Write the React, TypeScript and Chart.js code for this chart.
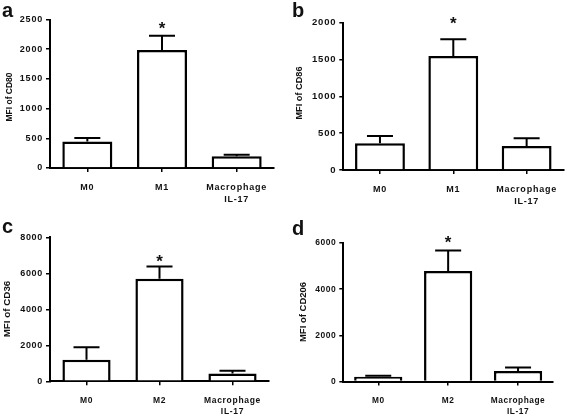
import React, { useEffect, useRef } from 'react';
import { Chart, registerables } from 'chart.js';

Chart.register(...registerables);

// ---- data ----
const catsM1: (string | string[])[] = ['M0', 'M1', ['Macrophage', 'IL-17']];
const catsM2: (string | string[])[] = ['M0', 'M2', ['Macrophage', 'IL-17']];

const cd80Mean = [445, 1985, 198];
const cd80Err = [62, 240, 26];
const cd80Ticks = [0, 500, 1000, 1500, 2000, 2500];

const cd86Mean = [362, 1548, 326];
const cd86Err = [100, 226, 104];
const cd86Ticks = [0, 500, 1000, 1500, 2000];

const cd36Mean = [1200, 5700, 440];
const cd36Err = [690, 680, 150];
const cd36Ticks = [0, 2000, 4000, 6000, 8000];

const cd206Mean = [210, 4790, 460];
const cd206Err = [40, 890, 150];
const cd206Ticks = [0, 2000, 4000, 6000];

const FONT = '"Liberation Sans", Arial, Helvetica, sans-serif';

interface PanelCfg {
  letter: string;
  title: string;
  labels: (string | string[])[];
  mean: number[];
  err: number[];
  ticks: number[];
  star: number;
  x: number; y: number; w: number; h: number;
  left: number; right: number; top: number; bottom: number;
  yTick: number; xTick: number; spacing: number;
  titleSize: number; titleX: number; titleY: number;
  letterX: number; letterY: number;
  starGap: number;
  barPct: number;
}

const panels: PanelCfg[] = [
  {
    letter: 'a', title: 'MFI of CD80', labels: catsM1, mean: cd80Mean, err: cd80Err, ticks: cd80Ticks, star: 1,
    x: 0, y: 0, w: 284, h: 208, left: 50, right: 274, top: 19.5, bottom: 168,
    yTick: 9, xTick: 9, spacing: 0.8, titleSize: 8.5, titleX: 10, titleY: 97,
    letterX: 2, letterY: 17, starGap: 11, barPct: 0.67,
  },
  {
    letter: 'b', title: 'MFI of CD86', labels: catsM1, mean: cd86Mean, err: cd86Err, ticks: cd86Ticks, star: 1,
    x: 284, y: 0, w: 283, h: 208, left: 59.3, right: 279.3, top: 22.7, bottom: 170,
    yTick: 9.5, xTick: 9, spacing: 0.8, titleSize: 9.2, titleX: 15, titleY: 93,
    letterX: 8, letterY: 17, starGap: 20, barPct: 0.68,
  },
  {
    letter: 'c', title: 'MFI of CD36', labels: catsM2, mean: cd36Mean, err: cd36Err, ticks: cd36Ticks, star: 1,
    x: 0, y: 208, w: 284, h: 208, left: 50, right: 269, top: 29.3, bottom: 173.3,
    yTick: 9, xTick: 8.5, spacing: 0.7, titleSize: 9.8, titleX: 7, titleY: 101,
    letterX: 2, letterY: 25, starGap: 9, barPct: 0.66,
  },
  {
    letter: 'd', title: 'MFI of CD206', labels: catsM2, mean: cd206Mean, err: cd206Err, ticks: cd206Ticks, star: 1,
    x: 284, y: 208, w: 283, h: 208, left: 59.3, right: 269, top: 35, bottom: 173.5,
    yTick: 8.5, xTick: 8.3, spacing: 0.55, titleSize: 9.5, titleX: 19, titleY: 104,
    letterX: 8, letterY: 27, starGap: 12, barPct: 0.69,
  },
];

function Panel({ cfg }: { cfg: PanelCfg }) {
  const ref = useRef<HTMLCanvasElement | null>(null);

  useEffect(() => {
    if (!ref.current) return;
    const decor = {
      id: 'decor',
      beforeDraw(chart: any) {
        chart.ctx.letterSpacing = cfg.spacing + 'px';
      },
      afterDatasetsDraw(chart: any) {
        const ctx = chart.ctx;
        const xs = chart.scales.x;
        const ys = chart.scales.y;
        ctx.save();
        ctx.strokeStyle = '#000';
        ctx.lineWidth = 2;
        cfg.mean.forEach((m, i) => {
          const px = xs.getPixelForValue(i);
          const yb = ys.getPixelForValue(m);
          const yt = ys.getPixelForValue(m + cfg.err[i]);
          ctx.beginPath();
          ctx.moveTo(px, yb);
          ctx.lineTo(px, yt);
          ctx.moveTo(px - 13, yt);
          ctx.lineTo(px + 13, yt);
          ctx.stroke();
        });
        ctx.restore();
      },
      afterDraw(chart: any) {
        const ctx = chart.ctx;
        const xs = chart.scales.x;
        const ys = chart.scales.y;
        ctx.save();
        ctx.letterSpacing = '0px';
        ctx.fillStyle = '#111';
        // panel letter
        ctx.font = `bold 20px ${FONT}`;
        ctx.textAlign = 'left';
        ctx.textBaseline = 'alphabetic';
        ctx.fillText(cfg.letter, cfg.letterX, cfg.letterY);
        // y title
        ctx.save();
        ctx.translate(cfg.titleX, cfg.titleY);
        ctx.rotate(-Math.PI / 2);
        ctx.font = `bold ${cfg.titleSize}px ${FONT}`;
        ctx.textAlign = 'center';
        ctx.textBaseline = 'middle';
        ctx.fillText(cfg.title, 0, 0);
        ctx.restore();
        // asterisk
        const i = cfg.star;
        const sx = xs.getPixelForValue(i);
        const sy = ys.getPixelForValue(cfg.mean[i] + cfg.err[i]) - cfg.starGap;
        ctx.font = `bold 17px ${FONT}`;
        ctx.textAlign = 'center';
        ctx.textBaseline = 'alphabetic';
        ctx.fillText('*', sx, sy + 9.5);
        ctx.restore();
        ctx.letterSpacing = '0px';
      },
    };

    const chart = new Chart(ref.current, {
      type: 'bar',
      data: {
        labels: cfg.labels as any,
        datasets: [
          {
            data: cfg.mean,
            backgroundColor: '#ffffff',
            borderColor: '#000000',
            borderWidth: 2.5,
            borderSkipped: 'start',
            barPercentage: cfg.barPct,
            categoryPercentage: 1,
          },
        ],
      },
      options: {
        responsive: false,
        animation: false,
        devicePixelRatio: 1,
        layout: { padding: { left: 0, top: cfg.top, right: cfg.w - cfg.right, bottom: 0 } },
        plugins: { legend: { display: false }, tooltip: { enabled: false }, title: { display: false } },
        scales: {
          x: {
            offset: true,
            grid: { offset: false, drawOnChartArea: false, drawTicks: true, tickLength: 4, color: '#000', lineWidth: 1.5 },
            border: { display: true, color: '#000', width: 2 },
            ticks: {
              color: '#111',
              font: { family: FONT, size: cfg.xTick, weight: 'bold', lineHeight: 1.3 },
              padding: 10,
              maxRotation: 0,
              minRotation: 0,
              autoSkip: false,
            },
            afterFit: (s: any) => { s.height = cfg.h - cfg.bottom; },
          },
          y: {
            min: 0,
            max: cfg.ticks[cfg.ticks.length - 1],
            afterBuildTicks: (s: any) => { s.ticks = cfg.ticks.map((v) => ({ value: v })); },
            grid: { drawOnChartArea: false, drawTicks: true, tickLength: 4, color: '#000', lineWidth: 1.5 },
            border: { display: true, color: '#000', width: 2 },
            ticks: {
              color: '#111',
              font: { family: FONT, size: cfg.yTick, weight: 'bold' },
              padding: 3,
              callback: (v: any) => String(v),
            },
            afterFit: (s: any) => { s.width = cfg.left; },
          },
        },
      } as any,
      plugins: [decor],
    });
    return () => chart.destroy();
  }, [cfg]);

  return (
    <canvas
      ref={ref}
      width={cfg.w}
      height={cfg.h}
      style={{ position: 'absolute', left: cfg.x, top: cfg.y, width: cfg.w, height: cfg.h, display: 'block' }}
    />
  );
}

export default function App() {
  return (
    <div style={{ position: 'fixed', left: 0, top: 0, width: 567, height: 416, background: '#fff', overflow: 'hidden' }}>
      {panels.map((p) => (
        <Panel key={p.letter} cfg={p} />
      ))}
    </div>
  );
}
